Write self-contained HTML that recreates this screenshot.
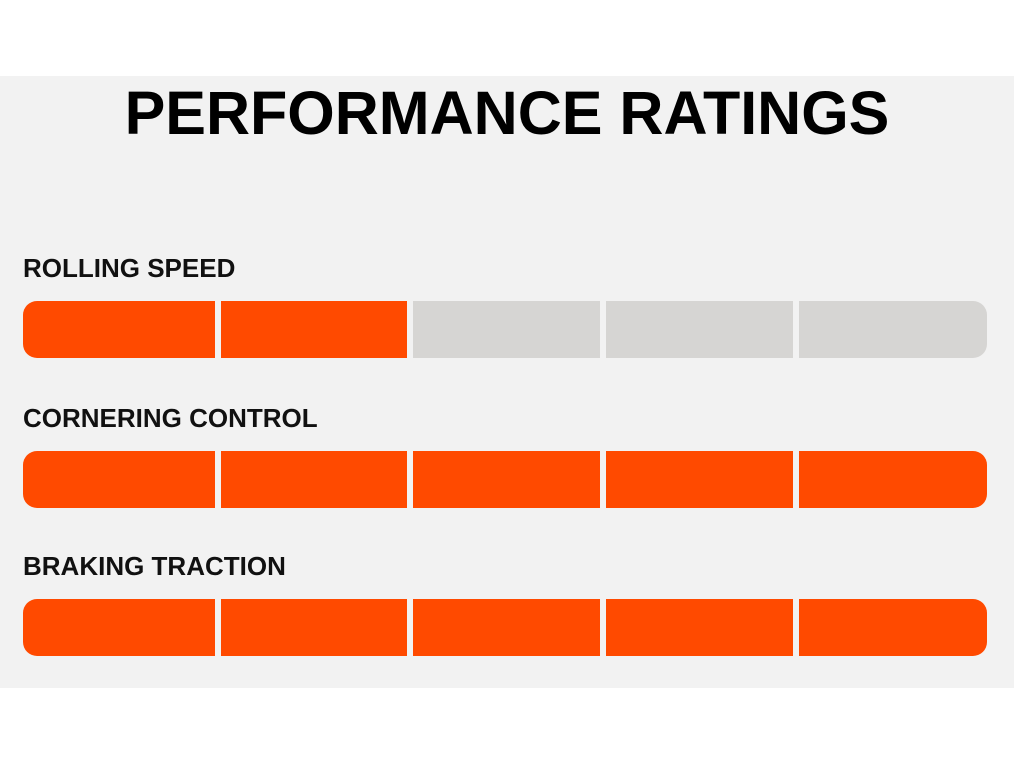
<!DOCTYPE html>
<html><head><meta charset="utf-8"><style>
body{margin:0;width:1024px;height:768px;background:#fff;font-family:"Liberation Sans",sans-serif;overflow:hidden;position:relative}
#panel{position:absolute;left:0;top:76px;width:1014px;height:612px;background:#f2f2f2}
h1{position:absolute;left:0;width:1014px;top:78px;margin:0;text-align:center;font-size:61px;font-weight:bold;color:#000;letter-spacing:0px}
.lab{position:absolute;left:23px;font-size:26px;font-weight:bold;color:#111}
.seg{position:absolute;height:57px}
</style></head><body>
<div id="panel"></div>
<h1>PERFORMANCE RATINGS</h1>
<div id="chart"></div>
<script>
const categories=["ROLLING SPEED","CORNERING CONTROL","BRAKING TRACTION"];
const ratings=[2,5,5];
const maxRating=5;
const chart=document.getElementById('chart');
const barTops=[301,451,599];
const segX=[23,221,413,606,799], segR=[215,407,600,793,987];
categories.forEach((c,i)=>{
  const l=document.createElement('div');
  l.className='lab';
  
  
  l.style.top=(barTops[i]-48)+'px';
  l.textContent=c;
  chart.appendChild(l);
  for(let s=0;s<maxRating;s++){
    const d=document.createElement('div');
    d.className='seg';
    
    
    d.style.left=segX[s]+'px';
    d.style.width=(segR[s]-segX[s])+'px';
    d.style.top=barTops[i]+'px';
    d.style.background=s<ratings[i]?'#ff4a00':'#d6d5d3';
    if(s===0)d.style.borderRadius='14px 0 0 14px';
    if(s===maxRating-1)d.style.borderRadius='0 14px 14px 0';
    chart.appendChild(d);
  }
});
</script>
</body></html>
